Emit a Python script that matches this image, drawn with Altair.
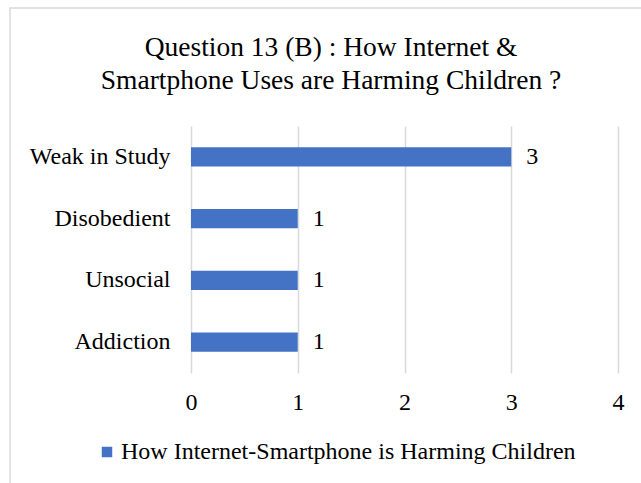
import altair as alt
import pandas as pd

categories = ["Weak in Study", "Disobedient", "Unsocial", "Addiction"]
values = [3, 1, 1, 1]
series_name = "How Internet-Smartphone is Harming Children"
x_ticks = [0, 1, 2, 3, 4]
title_lines = ["Question 13 (B) : How Internet &", "Smartphone Uses are Harming Children ?"]

df = pd.DataFrame({"cat": categories, "val": values, "series": [series_name] * len(categories)})
title_df = pd.DataFrame({"t": [title_lines]})

FONT = "Liberation Serif"
BLUE = "#4472C4"

base = alt.Chart(df)

border = alt.Chart(pd.DataFrame({"d": [0]})).mark_rect(
    fill=None, stroke="#d9d9d9", strokeWidth=1.5, clip=False
).encode(
    x=alt.value(-181), x2=alt.value(700), y=alt.value(-118), y2=alt.value(600)
)

title = alt.Chart(title_df).mark_text(
    font=FONT, fontSize=27.5, color="#000000", align="center", baseline="alphabetic",
    lineHeight=33
).encode(
    x=alt.value(140), y=alt.value(-70), text="t"
)

bars = base.mark_bar(color=BLUE).encode(
    y=alt.Y("cat:N", sort=categories, title=None,
            scale=alt.Scale(paddingInner=0.69, paddingOuter=0.345),
            axis=alt.Axis(labelFont=FONT, labelFontSize=24, labelColor="#000000",
                          ticks=False, domain=False, labelPadding=21, grid=False,
                          labelLimit=300)),
    x=alt.X("val:Q", title=None,
            scale=alt.Scale(domain=[0, 4], nice=False),
            axis=alt.Axis(values=x_ticks, labelFont=FONT, labelFontSize=24,
                          labelColor="#000000", ticks=False, domain=False,
                          labelPadding=17, grid=True, gridColor="#d9d9d9",
                          gridWidth=1.5, format="d", labelFlush=False)),
    color=alt.Color("series:N", scale=alt.Scale(range=[BLUE]),
                    legend=alt.Legend(title=None, orient="none", legendX=-96, legendY=314,
                                      labelFont=FONT, labelFontSize=24, labelColor="#000000",
                                      symbolType="square", symbolSize=110,
                                      symbolStrokeWidth=0, labelLimit=600, symbolOffset=0,
                                      labelOffset=2)),
)

labels = base.mark_text(align="left", baseline="middle", dx=15, font=FONT,
                        fontSize=24, color="#000000").encode(
    y=alt.Y("cat:N", sort=categories),
    x=alt.X("val:Q"),
    text=alt.Text("val:Q"),
)

chart = alt.layer(border, title, bars, labels).properties(
    width=427,
    height=247,
    autosize=alt.AutoSizeParams(type="none"),
    padding={"left": 191, "top": 126, "right": 23, "bottom": 110},
).configure_view(stroke=None)

chart.save("out.html", embed_options={"renderer": "svg", "actions": False})
